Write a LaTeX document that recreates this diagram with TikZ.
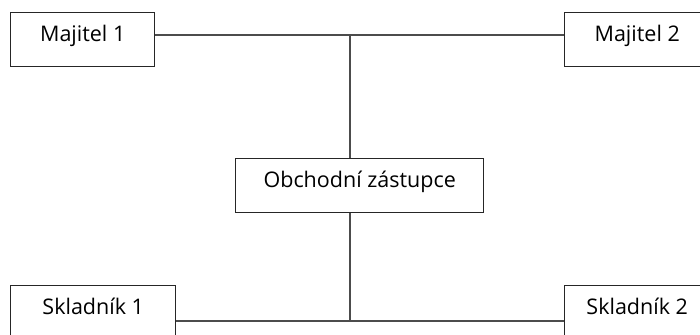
\documentclass[tikz,border=0pt]{standalone}
\usepackage{fontspec}
\setmainfont{Open Sans}
\begin{document}
\begin{tikzpicture}[x=1pt,y=-1pt,
  box/.style={draw=black!85,line width=1.4pt,fill=white,inner sep=0pt,anchor=north west,
    text height=29pt,text depth=25pt,font=\fontsize{21.5}{26}\selectfont,text=black},
  conn/.style={draw=black!70,line width=1.1pt}]
\useasboundingbox (0,0) rectangle (700,334);
\begin{scope}
\clip (0,0) rectangle (700,334);
\node[box,minimum width=144pt] (m1) at (10,12) {Majitel 1};
\node[box,minimum width=145pt] (m2) at (564,12) {Majitel 2};
\node[box,minimum width=248pt] (oz) at (235,158) {Obchodní zástupce};
\node[box,minimum width=165pt] (s1) at (10,285) {Skladník 1};
\node[box,minimum width=145pt] (s2) at (564,285) {Skladník 2};
\coordinate (top) at (350,35);
\coordinate (bot) at (350,321);
\draw[conn] (m1.east |- top) -- (m2.west |- top);
\draw[conn] (top) -- (top |- oz.north);
\draw[conn] (top |- oz.south) -- (bot);
\draw[conn] (s1.east |- bot) -- (s2.west |- bot);
\end{scope}
\end{tikzpicture}
\end{document}
